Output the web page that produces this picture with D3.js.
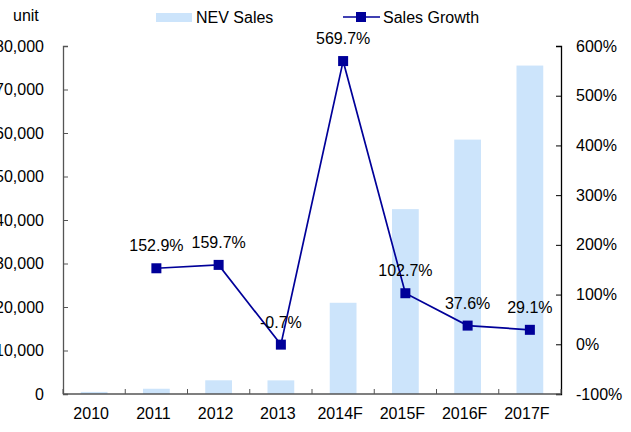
<!DOCTYPE html>
<html>
<head>
<meta charset="utf-8">
<script src="https://cdn.jsdelivr.net/npm/d3@7"></script>
<style>
body{margin:0;background:#fff;overflow:hidden}
text{font-family:"Liberation Sans",Arial,sans-serif;fill:#000}
</style>
</head>
<body>
<div id="chart"></div>
<script>
var years=["2010","2011","2012","2013","2014F","2015F","2016F","2017F"]
var sales=[480,1210,3150,3130,20970,42500,58480,75500]
var growth=[null,152.9,159.7,-0.7,569.7,102.7,37.6,29.1]
var leftTicks=[0,10000,20000,30000,40000,50000,60000,70000,80000]
var rightTicks=[-100,0,100,200,300,400,500,600]

var width=631,height=432
var plot={left:63,right:561,top:46,bottom:394}
var fs=16

var svg=d3.select("#chart").append("svg")
	.attr("width",width)
	.attr("height",height)

var x=d3.scaleBand().domain(years).range([plot.left,plot.right])
var y=d3.scaleLinear().domain([0,80000]).range([plot.bottom,plot.top])
var y2=d3.scaleLinear().domain([-100,600]).range([plot.bottom,plot.top])

// bars
svg.selectAll(".bar")
	.data(years)
	.enter()
	.append("rect")
	   .attr("x",function(d){return x(d)+x.bandwidth()*0.285})
	   .attr("width",x.bandwidth()*0.43)
	   .attr("y",function(d,i){return y(sales[i])})
	   .attr("height",function(d,i){return plot.bottom-y(sales[i])})
	   .attr("fill","#cce4fb")

// left axis
var la=svg.append("g")
	.attr("transform","translate("+plot.left+",0)")
	.call(d3.axisRight(y).tickValues(leftTicks).tickSize(5).tickFormat(""))
la.select(".domain").attr("stroke","#555").attr("stroke-width",1.3)
la.selectAll(".tick line").attr("stroke","#555")
svg.selectAll(".ltl")
	.data(leftTicks)
	.enter()
	.append("text")
	.attr("x",44)
	.attr("y",function(d){return y(d)+5.5})
	.attr("text-anchor","end")
	.attr("font-size",fs+"px")
	.text(function(d){return d3.format(",")(d)})

// right axis
var ra=svg.append("g")
	.attr("transform","translate("+plot.right+",0)")
	.call(d3.axisLeft(y2).tickValues(rightTicks).tickSize(5).tickFormat(""))
ra.select(".domain").attr("stroke","#000").attr("stroke-width",1.3)
ra.selectAll(".tick line").attr("stroke","#000")
svg.selectAll(".rtl")
	.data(rightTicks)
	.enter()
	.append("text")
	.attr("x",576)
	.attr("y",function(d){return y2(d)+5.5})
	.attr("font-size",fs+"px")
	.text(function(d){return d+"%"})

// x axis
var xa=svg.append("g")
	.attr("transform","translate(0,"+plot.bottom+")")
var xEdges=years.map(function(d){return x(d)}).concat([plot.right])
xa.append("line")
	.attr("x1",plot.left).attr("x2",plot.right)
	.attr("stroke","#555").attr("stroke-width",1.3)
xa.selectAll(".xt")
	.data(xEdges)
	.enter()
	.append("line")
	.attr("x1",function(d){return d}).attr("x2",function(d){return d})
	.attr("y1",0).attr("y2",-5)
	.attr("stroke","#555")
xa.selectAll(".xl")
	.data(years)
	.enter()
	.append("text")
	.attr("x",function(d){return x(d)+x.bandwidth()/2-3})
	.attr("y",25)
	.attr("text-anchor","middle")
	.attr("font-size",fs+"px")
	.text(function(d){return d})

// growth line
var pts=years.map(function(d,i){return {k:d,v:growth[i]}}).filter(function(d){return d.v!==null})
var line=d3.line()
	.x(function(d){return x(d.k)+x.bandwidth()/2})
	.y(function(d){return y2(d.v)})
svg.append("path")
	.datum(pts)
	.attr("d",line)
	.attr("fill","none")
	.attr("stroke","#000099")
	.attr("stroke-width",1.7)
svg.selectAll(".mk")
	.data(pts)
	.enter()
	.append("rect")
	.attr("x",function(d){return x(d.k)+x.bandwidth()/2-5})
	.attr("y",function(d){return y2(d.v)-5})
	.attr("width",10).attr("height",10)
	.attr("fill","#000099")
svg.selectAll(".vl")
	.data(pts)
	.enter()
	.append("text")
	.attr("x",function(d){return x(d.k)+x.bandwidth()/2})
	.attr("y",function(d){return y2(d.v)-17})
	.attr("text-anchor","middle")
	.attr("font-size",fs+"px")
	.text(function(d){return d.v.toFixed(1)+"%"})

// unit label
svg.append("text")
	.attr("x",13).attr("y",21)
	.attr("font-size",fs+"px")
	.text("unit")

// legend
svg.append("rect")
	.attr("x",156).attr("y",13).attr("width",36).attr("height",9)
	.attr("fill","#cce4fb")
svg.append("text")
	.attr("x",196).attr("y",23)
	.attr("font-size",fs+"px")
	.text("NEV Sales")
svg.append("line")
	.attr("x1",343).attr("x2",380).attr("y1",17).attr("y2",17)
	.attr("stroke","#000099").attr("stroke-width",1.7)
svg.append("rect")
	.attr("x",356).attr("y",12).attr("width",10).attr("height",10)
	.attr("fill","#000099")
svg.append("text")
	.attr("x",383).attr("y",23)
	.attr("font-size",fs+"px")
	.text("Sales Growth")
</script>
</body>
</html>
